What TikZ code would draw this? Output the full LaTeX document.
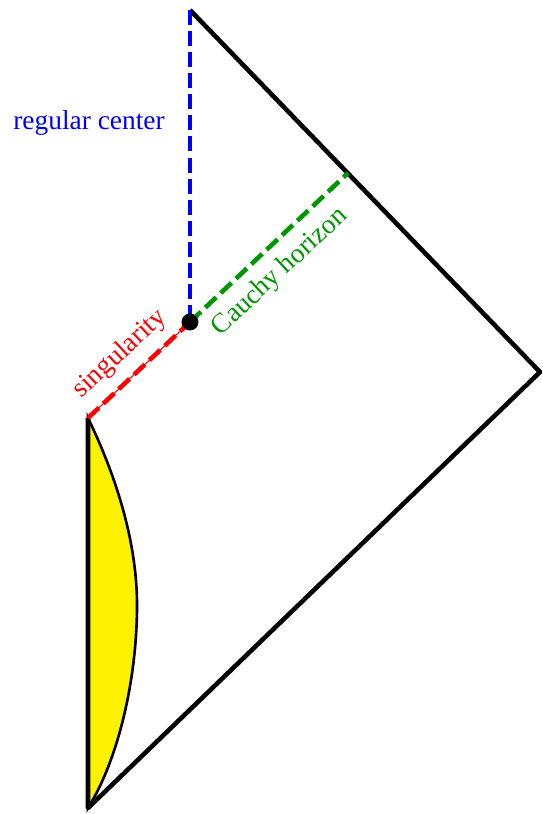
\documentclass[tikz,border=0pt]{standalone}
\usepackage{fontspec}
\newfontfamily\lblfont{Liberation Serif}
\definecolor{hgreen}{RGB}{0,150,0}
\begin{document}
\begin{tikzpicture}[x=0.02cm, y=-0.02cm,
    bound/.style={line width=2.6pt, line join=round},
    horizon/.style={line width=2.6pt, dash pattern=on 8.5pt off 3.5pt},
    lbl/.style={font=\lblfont\fontsize{15.6}{18}\selectfont, inner sep=1pt}
  ]
  \useasboundingbox (0,0) rectangle (542,814);
  % corners of the diagram
  \coordinate (top) at (190,10);
  \coordinate (right) at (540,372);
  \coordinate (bottom) at (88,808);
  \coordinate (sing) at (88,418);
  \coordinate (ch) at (348,173);
  \coordinate (bulge) at (137,605);
  % collapsing matter
  \filldraw[fill=yellow, line width=1.5pt] (sing) .. controls (118,480) and (137,545) .. (bulge)
    .. controls (137,680) and (118,760) .. (bottom) -- cycle;
  \draw[bound] (top) -- (right) -- (bottom) -- (sing);
  \node[circle, fill=black, minimum size=9.5pt, inner sep=0pt] (dot) at (190,322) {};
  \draw[horizon, blue] (top) -- (dot.center);
  \draw[horizon, hgreen] (dot.center) -- (ch);
  \draw[red, line width=0.6pt] (sing) -- (dot.center);
  \draw[horizon, red] (sing) -- (dot.center);
  \node[circle, fill=black, minimum size=9.5pt, inner sep=0pt] at (dot) {};
  % labels
  \node[lbl, blue] (rc) at (89,123) {regular center};
  \node[lbl, hgreen, rotate=43] (chl) at (280,272) {Cauchy horizon};
  \node[lbl, red, rotate=43] (sl) at (120,354) {singularity};
\end{tikzpicture}
\end{document}
